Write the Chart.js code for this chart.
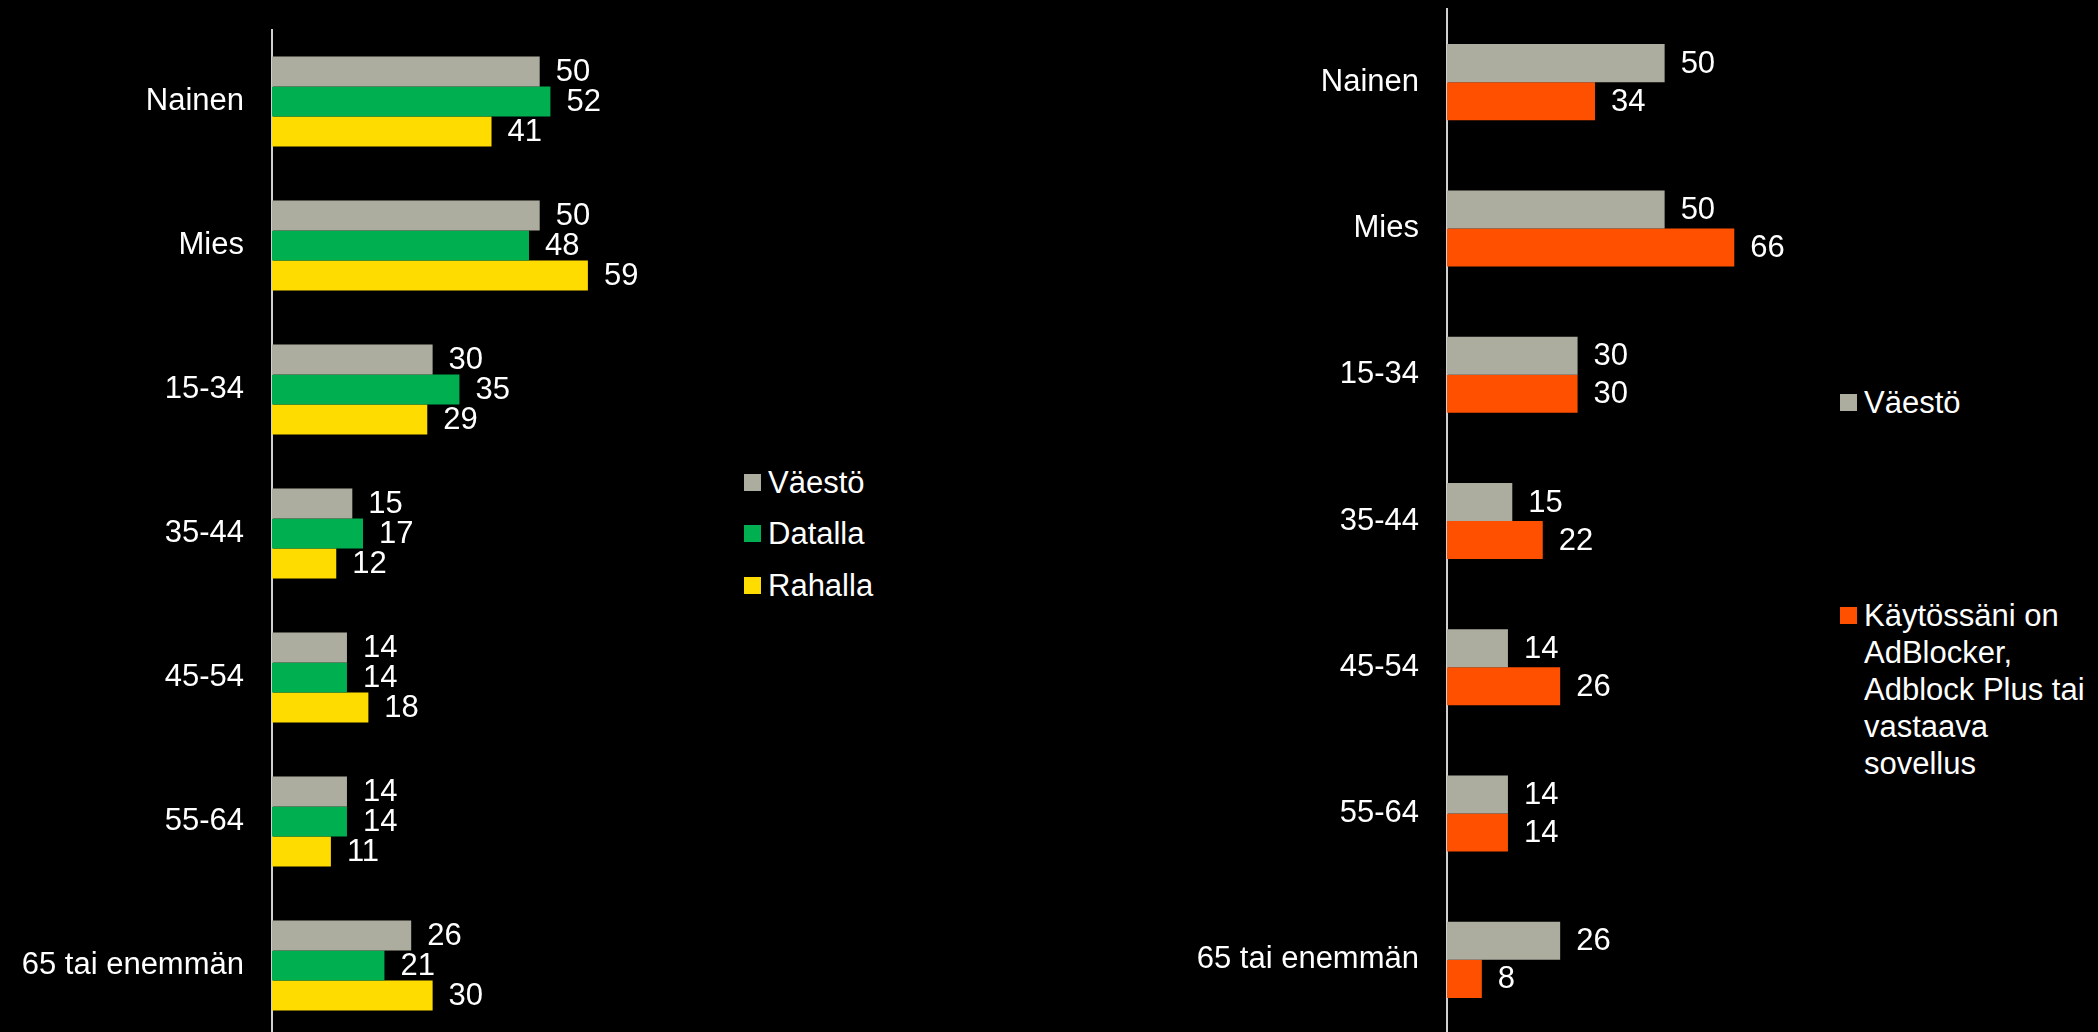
<!DOCTYPE html>
<html lang="fi">
<head>
  <meta charset="UTF-8">
  <title>Väestö, Datalla, Rahalla, AdBlocker</title>
  <script src="https://cdn.jsdelivr.net/npm/chart.js"></script>
  <style>
    html, body {
      margin: 0;
      padding: 0;
      background: #000;
      width: 2098px;
      height: 1032px;
      overflow: hidden;
      font-family: "Liberation Sans", Arial, sans-serif;
    }

    .box {
      position: absolute;
    }

    .legend {
      position: absolute;
      color: #fff;
      font-size: 31px;
    }

    .legend .item {
      position: absolute;
      left: 0;
      white-space: nowrap;
    }

    .legend .swatch {
      position: absolute;
      left: 0;
      width: 17px;
      height: 17px;
    }

    .legend .text {
      position: absolute;
      left: 24px;
      line-height: 37px;
    }
  </style>
</head>
<body>

  <div class="box" style="left:0; top:0; width:703px; height:1040px;">
    <canvas id="leftChart"></canvas>
  </div>
  <div class="box" style="left:1150px; top:0; width:650px; height:1040px;">
    <canvas id="rightChart"></canvas>
  </div>

  <div class="legend" id="leftLegend" style="left:744px; top:0;"></div>
  <div class="legend" id="rightLegend" style="left:1840px; top:0;"></div>

  <script>
    // categories
    const categories = ['Nainen', 'Mies', '15-34', '35-44', '45-54', '55-64', '65 tai enemmän'];

    // left chart series
    const vaesto = [50, 50, 30, 15, 14, 14, 26];
    const datalla = [52, 48, 35, 17, 14, 14, 21];
    const rahalla = [41, 59, 29, 12, 18, 11, 30];

    // right chart series
    const vaestoRight = [50, 50, 30, 15, 14, 14, 26];
    const adblock = [34, 66, 30, 22, 26, 14, 8];

    const leftLabels = ['Väestö', 'Datalla', 'Rahalla'];
    const rightLabels = ['Väestö', ['Käytössäni on', 'AdBlocker,', 'Adblock Plus tai', 'vastaava', 'sovellus']];

    const GRAY = '#ADAD9F';
    const GREEN = '#00B050';
    const YELLOW = '#FFDC00';
    const ORANGE = '#FF5000';

    const FONT_FAMILY = '"Liberation Sans", Arial, sans-serif';

    // draws the value next to the end of each bar
    const valueLabels = {
      id: 'valueLabels',
      afterDatasetsDraw(chart) {
        const ctx = chart.ctx;
        ctx.save();
        ctx.fillStyle = '#fff';
        ctx.font = '31px ' + FONT_FAMILY;
        ctx.textAlign = 'left';
        ctx.textBaseline = 'middle';
        chart.data.datasets.forEach((ds, i) => {
          const meta = chart.getDatasetMeta(i);
          meta.data.forEach((bar, j) => {
            ctx.fillText(ds.data[j], bar.x + 16, bar.y + 1);
          });
        });
        ctx.restore();
      }
    };

    function makeChart(id, datasets, opts) {
      return new Chart(document.getElementById(id), {
        type: 'bar',
        data: {
          labels: categories,
          datasets: datasets
        },
        plugins: [valueLabels],
        options: {
          indexAxis: 'y',
          responsive: true,
          maintainAspectRatio: false,
          animation: false,
          layout: {
            padding: { top: opts.top, bottom: opts.bottom, left: 0, right: 0 }
          },
          datasets: {
            bar: {
              categoryPercentage: opts.catPct,
              barPercentage: 1,
              borderWidth: 0
            }
          },
          plugins: {
            legend: { display: false },
            tooltip: { enabled: false }
          },
          scales: {
            x: {
              display: false,
              min: 0,
              max: opts.max
            },
            y: {
              afterFit(scale) {
                scale.width = opts.axisWidth;
                // labels sit at band centres, no extra room needed above/below
                scale.paddingTop = 0;
                scale.paddingBottom = 0;
              },
              grid: { display: false, drawTicks: false },
              border: { display: true, color: '#D0D0D0', width: 2 },
              ticks: {
                color: '#fff',
                padding: 28,
                font: { family: FONT_FAMILY, size: 31 }
              }
            }
          }
        }
      });
    }

    makeChart('leftChart', [
      { label: leftLabels[0], data: vaesto, backgroundColor: GRAY },
      { label: leftLabels[1], data: datalla, backgroundColor: GREEN },
      { label: leftLabels[2], data: rahalla, backgroundColor: YELLOW }
    ], { top: 29.5, bottom: 2.5, catPct: 0.625, max: 80.5, axisWidth: 272 });

    makeChart('rightChart', [
      { label: rightLabels[0], data: vaestoRight, backgroundColor: GRAY },
      { label: rightLabels[1], data: adblock, backgroundColor: ORANGE }
    ], { top: 9, bottom: 7, catPct: 0.52, max: 81.1, axisWidth: 297 });

    // html legends
    function buildLegend(el, labels, colors, centers) {
      labels.forEach((lab, i) => {
        const lines = Array.isArray(lab) ? lab : [lab];
        const item = document.createElement('div');
        item.className = 'item';
        item.style.top = (centers[i] - 18.5) + 'px';
        const sw = document.createElement('div');
        sw.className = 'swatch';
        sw.style.background = colors[i];
        sw.style.top = '10px';
        const tx = document.createElement('div');
        tx.className = 'text';
        tx.innerHTML = lines.join('<br>');
        item.appendChild(sw);
        item.appendChild(tx);
        el.appendChild(item);
      });
    }

    buildLegend(document.getElementById('leftLegend'), leftLabels, [GRAY, GREEN, YELLOW], [482, 533, 585]);
    buildLegend(document.getElementById('rightLegend'), rightLabels, [GRAY, ORANGE], [402, 615]);
  </script>

</body>
</html>
